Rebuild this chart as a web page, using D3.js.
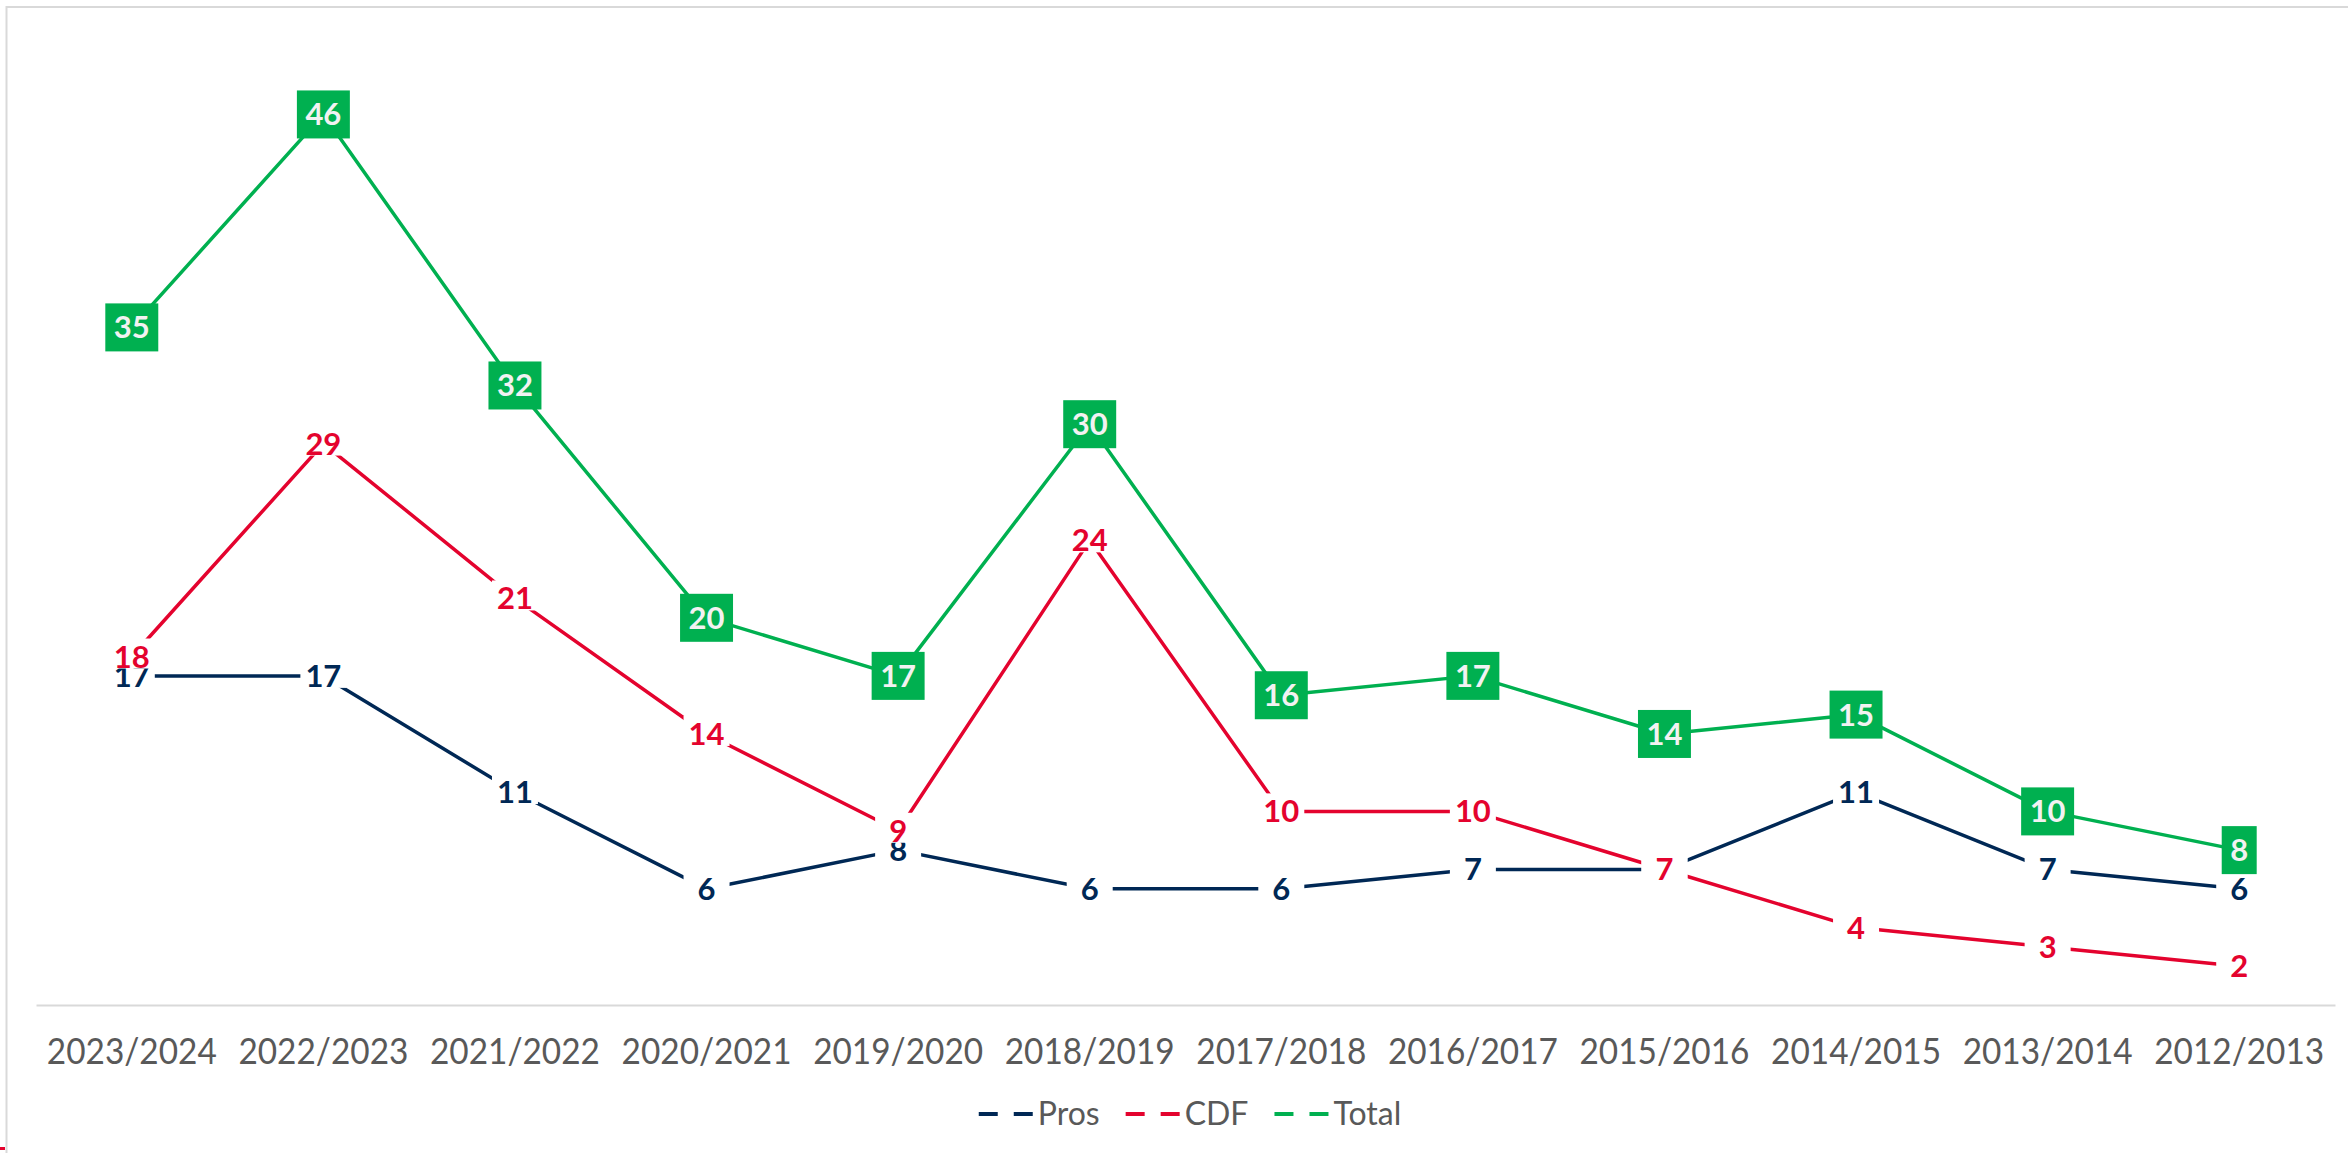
<!DOCTYPE html>
<html><head><meta charset="utf-8">
<script src="https://cdn.jsdelivr.net/npm/d3@7"></script>
<style>html,body{margin:0;padding:0;background:#fff;overflow:hidden} svg{display:block}</style>
</head><body>
<svg id="chart" width="2348" height="1153"></svg>
<script>
const categories = ["2023/2024","2022/2023","2021/2022","2020/2021","2019/2020","2018/2019","2017/2018","2016/2017","2015/2016","2014/2015","2013/2014","2012/2013"];
const prosValues  = [17,17,11,6,8,6,6,7,7,11,7,6];
const cdfValues   = [18,29,21,14,9,24,10,10,7,4,3,2];
const totalValues = [35,46,32,20,17,30,16,17,14,15,10,8];
const seriesNames = ["Pros","CDF","Total"];
const yMax = 50;

(function(){
const colors = {Pros:"#002855", CDF:"#E4032E", Total:"#00B050"};
const series = [
  {name:seriesNames[0], values:prosValues, boxed:false},
  {name:seriesNames[1], values:cdfValues, boxed:false},
  {name:seriesNames[2], values:totalValues, boxed:true}
];

const svg = d3.select("#chart");
const pLeft = 36, pRight = 2335, pTop = 37, pBottom = 1005;

// outer border
svg.append("rect").attr("x",6.5).attr("y",7).attr("width",2400).attr("height",1200)
  .attr("fill","none").attr("stroke","#D9D9D9").attr("stroke-width",2);
svg.append("rect").attr("x",0).attr("y",1147).attr("width",5).attr("height",3).attr("fill","#E4032E");

const x = d3.scaleBand().domain(categories).range([pLeft,pRight]).padding(0);
const y = d3.scaleLinear().domain([0,yMax]).range([pBottom,pTop]);
const cx = c => x(c) + x.bandwidth()/2;

// axis
const axis = svg.append("g").attr("transform",`translate(0,${pBottom})`)
  .call(d3.axisBottom(x).tickSize(0).tickSizeOuter(0));
axis.select(".domain").attr("stroke","#D9D9D9").attr("stroke-width",2);
axis.selectAll("text").attr("y",59).attr("dy",0)
  .attr("font-family","Lato, 'Open Sans', sans-serif").attr("font-size",37)
  .attr("fill","#595959").attr("textLength",170).attr("lengthAdjust","spacingAndGlyphs");

// lines
const line = d3.line().x((d,i)=>cx(categories[i])).y(d=>y(d));
series.forEach(s=>{
  svg.append("path").datum(s.values).attr("d",line)
    .attr("fill","none").attr("stroke",colors[s.name]).attr("stroke-width",3.5)
    .attr("stroke-linejoin","round");
});

// labels
const fontLab = "Lato, 'Open Sans', sans-serif";
series.forEach(s=>{
  const g = svg.append("g");
  s.values.forEach((v,i)=>{
    const px = cx(categories[i]), py = y(v);
    const lg = g.append("g");
    const rect = lg.append("rect");
    const t = lg.append("text").attr("x",px).attr("y",py+11).attr("text-anchor","middle")
      .attr("font-family",fontLab).attr("font-weight",700).attr("font-size",31)
      .text(v);
    if (s.boxed) {
      const tw = t.node().getComputedTextLength();
      const bw = tw + 17;
      rect.attr("x",px-bw/2).attr("y",py-24).attr("width",bw).attr("height",48).attr("fill",colors[s.name]);
      t.attr("fill","#F2F2F2");
    } else {
      rect.attr("x",px-23).attr("y",py-18).attr("width",46).attr("height",30).attr("fill","#fff");
      t.attr("fill",colors[s.name]);
    }
  });
});

// legend
const leg = svg.append("g");
let lx = 0;
series.forEach(s=>{
  const ig = leg.append("g").attr("transform",`translate(${lx},0)`);
  ig.append("line").attr("x1",0).attr("x2",54).attr("y1",1114).attr("y2",1114)
    .attr("stroke",colors[s.name]).attr("stroke-width",4).attr("stroke-dasharray","19,16");
  const t = ig.append("text").attr("x",59).attr("y",1125)
    .attr("font-family",fontLab).attr("font-size",32).attr("fill","#595959").text(s.name);
  const w = 59 + t.node().getComputedTextLength();
  lx += w + 26;
});
const totalW = lx - 26;
leg.attr("transform",`translate(${1190 - totalW/2},0)`);
})();
</script>
</body></html>
